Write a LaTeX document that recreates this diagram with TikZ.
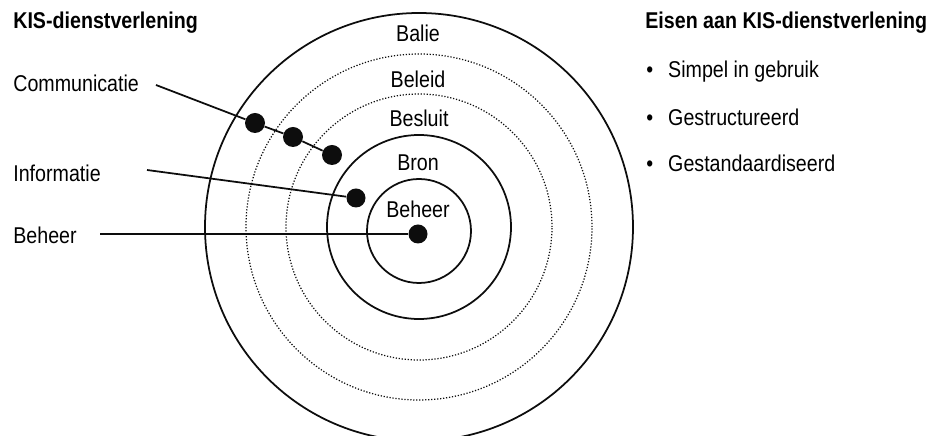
\documentclass[tikz,border=0pt]{standalone}
\usepackage{fontspec}
\setmainfont[FakeStretch=0.86]{Liberation Sans}
\usepackage{xcolor}
\usepackage{tikz}
\definecolor{kisInk}{HTML}{0D0D0D}

\begin{document}
\begin{tikzpicture}[font=\fontsize{13}{15}\selectfont]
  \useasboundingbox (0,0) rectangle (18.64,8.72);
  \coordinate (mid) at (8.38,4.18);

  \draw[kisInk, line width=1pt] (mid) circle (4.28);
  \draw[kisInk, line width=0.7pt, densely dotted] (mid) circle (3.46);
  \draw[kisInk, line width=0.7pt, densely dotted] (mid) circle (2.66);
  \draw[kisInk, line width=1pt] (mid) circle (1.84);
  \draw[kisInk, line width=1pt] (8.38,4.10) circle (1.04);

  \node (balie) at (8.36,8.06) {Balie};
  \node (beleid) at (8.36,7.14) {Beleid};
  \node (besluit) at (8.38,6.36) {Besluit};
  \node (bron) at (8.36,5.46) {Bron};
  \node (beheerring) at (8.36,4.54) {Beheer};

  \node[anchor=west, inner sep=0, font=\fontsize{13}{15}\selectfont\bfseries] (kis) at (0.26,8.26) {KIS-dienstverlening};
  \node[anchor=west, inner sep=0] (comm) at (0.26,7.06) {Communicatie};
  \node[anchor=west, inner sep=0] (info) at (0.26,5.26) {Informatie};
  \node[anchor=west, inner sep=0] (beh) at (0.26,4.02) {Beheer};

  \coordinate (commstart) at (3.12,7.02);
  \coordinate (infostart) at (2.94,5.32);
  \coordinate (behstart) at (2.00,4.04);

  \node[circle, fill=kisInk, inner sep=0, minimum size=0.4cm] (commA) at (5.10,6.26) {};
  \node[circle, fill=kisInk, inner sep=0, minimum size=0.4cm] (commB) at (5.86,5.98) {};
  \node[circle, fill=kisInk, inner sep=0, minimum size=0.4cm] (commC) at (6.64,5.62) {};
  \node[circle, fill=kisInk, inner sep=0, minimum size=0.38cm] (infodot) at (7.12,4.76) {};
  \node[circle, fill=kisInk, inner sep=0, minimum size=0.38cm] (behdot) at (8.36,4.04) {};

  \draw[kisInk, line width=1pt] (commstart) -- (commA) -- (commB) -- (commC);
  \draw[kisInk, line width=1pt] (infostart) -- (infodot);
  \draw[kisInk, line width=1pt] (behstart) -- (behdot);

  \node[anchor=west, inner sep=0, font=\fontsize{13}{15}\selectfont\bfseries] (eisen) at (12.90,8.26) {Eisen aan KIS-dienstverlening};
  \node[anchor=west, inner sep=0] (simpel) at (12.92,7.28) {\textbullet\hspace{0.3cm}Simpel in gebruik};
  \node[anchor=west, inner sep=0] (gestr) at (12.92,6.38) {\textbullet\hspace{0.3cm}Gestructureerd};
  \node[anchor=west, inner sep=0] (gestand) at (12.92,5.46) {\textbullet\hspace{0.3cm}Gestandaardiseerd};
\end{tikzpicture}
\end{document}
